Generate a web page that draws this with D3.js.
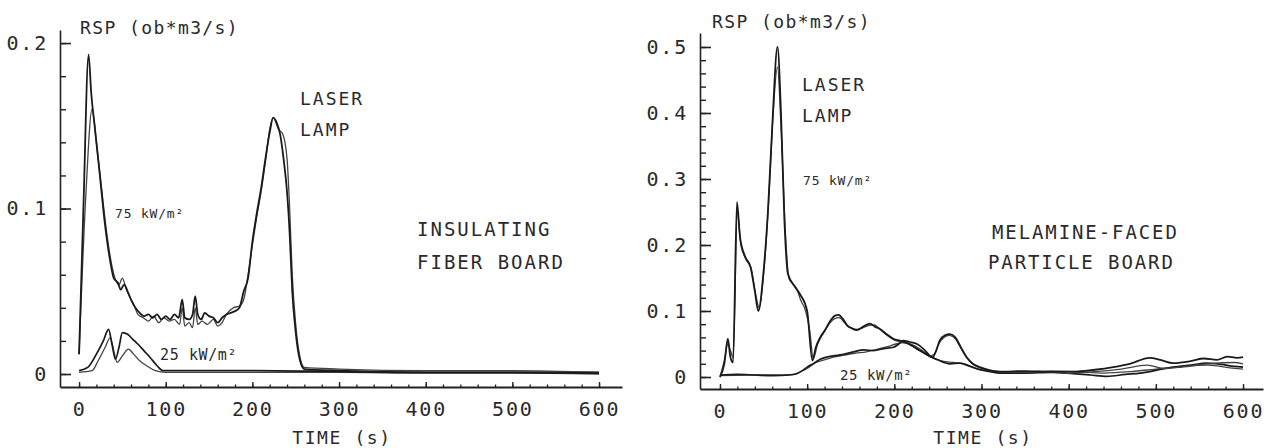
<!DOCTYPE html>
<html><head><meta charset="utf-8">
<script src="https://cdn.jsdelivr.net/npm/d3@7"></script>
<style>
html,body{margin:0;padding:0;background:#fff;}
text{font-family:"DejaVu Sans Mono",monospace;fill:#2a2a2a;}
</style></head>
<body>
<svg id="c" width="1276" height="448"></svg>
<script>
// ---------- data ----------
const xTickValues = [0, 100, 200, 300, 400, 500, 600];
const leftYTickValues = [0, 0.1, 0.2];
const rightYTickValues = [0, 0.1, 0.2, 0.3, 0.4, 0.5];
const yLabel = "RSP  (ob*m3/s)";
const xLabel = "TIME  (s)";

// Insulating fiber board, 75 kW/m2
const fiberLaser75 = [[0,0.012],[5,0.10],[11,0.193],[14,0.17],[18,0.150],[24,0.120],[30,0.090],[36,0.068],[40,0.058],[45,0.055],[48,0.051],[52,0.054],[56,0.050],[60,0.045],[65,0.040],[70,0.037],[75,0.035],[80,0.036],[85,0.034],[90,0.036],[95,0.033],[100,0.035],[105,0.033],[110,0.036],[115,0.034],[119,0.045],[122,0.034],[127,0.033],[131,0.036],[134,0.047],[137,0.036],[141,0.033],[145,0.037],[150,0.035],[155,0.034],[160,0.031],[165,0.034],[170,0.036],[175,0.037],[180,0.038],[185,0.040],[190,0.050],[195,0.058],[200,0.080],[205,0.097],[210,0.112],[215,0.130],[220,0.146],[224,0.155],[228,0.152],[232,0.145],[236,0.130],[240,0.110],[243,0.085],[246,0.05],[250,0.025],[255,0.008],[260,0.003],[300,0.002],[400,0.001],[500,0.001],[600,0.0005]];
const fiberLamp75 = [[0,0.012],[8,0.11],[15,0.160],[20,0.140],[26,0.112],[32,0.085],[38,0.065],[42,0.057],[46,0.054],[50,0.058],[54,0.052],[58,0.047],[63,0.042],[68,0.036],[74,0.034],[80,0.032],[86,0.035],[92,0.031],[98,0.034],[104,0.032],[110,0.033],[116,0.030],[119,0.040],[122,0.029],[127,0.031],[131,0.028],[134,0.040],[137,0.030],[142,0.032],[148,0.030],[155,0.033],[160,0.029],[165,0.031],[170,0.036],[178,0.040],[185,0.041],[190,0.045],[195,0.06],[200,0.078],[205,0.095],[210,0.11],[215,0.128],[220,0.148],[224,0.155],[230,0.148],[235,0.145],[240,0.13],[243,0.10],[246,0.06],[250,0.03],[255,0.01],[260,0.004],[300,0.003],[400,0.002],[500,0.002],[600,0.001]];
// Insulating fiber board, 25 kW/m2
const fiberLaser25 = [[0,0.002],[10,0.004],[20,0.012],[28,0.020],[34,0.027],[38,0.018],[42,0.009],[46,0.016],[50,0.025],[56,0.024],[62,0.021],[68,0.018],[75,0.014],[82,0.010],[90,0.005],[97,0.002],[110,0.002],[200,0.002],[300,0.0015],[400,0.001],[500,0.001],[600,0.001]];
const fiberLamp25 = [[0,0.001],[15,0.002],[22,0.008],[30,0.016],[36,0.022],[40,0.014],[44,0.007],[50,0.011],[57,0.015],[63,0.012],[70,0.008],[78,0.005],[88,0.002],[100,0.001],[200,0.001],[300,0.001],[400,0.0005],[500,0.0005],[600,0]];

// Melamine-faced particle board, 75 kW/m2
const melLaser75 = [[0,0.0],[5,0.02],[9,0.058],[12,0.03],[15,0.022],[19.5,0.265],[23,0.212],[29,0.182],[35,0.167],[40,0.13],[44,0.10],[50,0.16],[55,0.25],[60,0.38],[66,0.50],[70,0.40],[74,0.235],[78,0.156],[86,0.137],[92,0.125],[100,0.10],[106,0.025],[110,0.045],[115,0.06],[121,0.072],[127,0.086],[132,0.093],[136,0.094],[141,0.088],[146,0.078],[151,0.074],[157,0.071],[164,0.076],[172,0.081],[178,0.076],[183,0.073],[190,0.066],[199,0.058],[206,0.055],[214,0.052],[221,0.047],[229,0.040],[236,0.035],[244,0.030],[248,0.040],[252,0.055],[258,0.063],[264,0.065],[270,0.060],[276,0.046],[283,0.030],[290,0.020],[298,0.015],[310,0.010],[321,0.008],[350,0.009],[380,0.008],[405,0.008],[430,0.011],[451,0.015],[470,0.020],[493,0.029],[505,0.026],[520,0.021],[540,0.024],[555,0.028],[570,0.026],[582,0.031],[593,0.029],[600,0.030]];
const melLamp75 = [[0,0.0],[5,0.025],[9,0.05],[12,0.04],[15,0.03],[20,0.25],[24,0.2],[30,0.178],[36,0.163],[41,0.125],[45,0.105],[51,0.17],[56,0.27],[61,0.40],[66,0.47],[70,0.38],[75,0.22],[79,0.15],[84,0.14],[89,0.13],[93,0.115],[97,0.105],[103,0.07],[107,0.028],[112,0.05],[118,0.065],[125,0.08],[131,0.088],[137,0.09],[143,0.082],[149,0.075],[156,0.072],[163,0.074],[170,0.078],[177,0.079],[184,0.072],[192,0.063],[200,0.056],[208,0.053],[216,0.050],[224,0.044],[232,0.038],[240,0.032],[246,0.035],[251,0.050],[257,0.060],[263,0.063],[270,0.058],[277,0.042],[284,0.028],[292,0.018],[300,0.013],[315,0.009],[340,0.007],[370,0.008],[400,0.006],[430,0.008],[460,0.012],[490,0.018],[510,0.013],[530,0.015],[560,0.020],[590,0.022],[600,0.020]];
// Melamine-faced particle board, 25 kW/m2
const melLaser25 = [[0,0.003],[20,0.004],[40,0.003],[60,0.002],[80,0.003],[88,0.005],[95,0.010],[100,0.015],[108,0.021],[115,0.027],[122,0.030],[130,0.032],[140,0.034],[153,0.038],[165,0.041],[176,0.040],[188,0.043],[199,0.045],[205,0.050],[210,0.055],[218,0.053],[226,0.050],[234,0.042],[241,0.032],[250,0.026],[264,0.020],[275,0.021],[287,0.016],[298,0.011],[310,0.008],[321,0.006],[350,0.006],[380,0.007],[405,0.005],[425,0.003],[444,0.001],[465,0.004],[482,0.006],[500,0.010],[520,0.015],[540,0.018],[558,0.021],[575,0.019],[590,0.016],[600,0.015]];
const melLamp25 = [[0,0.002],[30,0.003],[60,0.003],[85,0.004],[92,0.008],[100,0.013],[110,0.022],[120,0.026],[130,0.030],[142,0.033],[155,0.036],[168,0.038],[180,0.042],[192,0.046],[202,0.050],[212,0.052],[222,0.048],[232,0.040],[242,0.030],[255,0.024],[268,0.022],[280,0.020],[292,0.014],[305,0.010],[320,0.008],[350,0.008],[380,0.009],[410,0.008],[440,0.006],[470,0.008],[500,0.012],[530,0.016],[560,0.018],[590,0.013],[600,0.012]];

// ---------- drawing ----------
const svg = d3.select("#c");
const fmtY = v => v === 0 ? "0" : d3.format(".1f")(v);

function panel(cfg) {
  const g = svg.append("g");
  const x = d3.scaleLinear().domain(cfg.xDomain).range(cfg.xRange);
  const y = d3.scaleLinear().domain(cfg.yDomain).range(cfg.yRange);

  // minor y ticks
  g.append("g").attr("transform", `translate(${cfg.xRange[0]},0)`)
    .call(d3.axisLeft(y).tickValues(d3.range(0, cfg.yMax + 0.001, 0.02)).tickSizeInner(-6).tickSizeOuter(0).tickFormat(""))
    .call(s => s.select(".domain").remove())
    .call(s => s.selectAll("line").attr("stroke", "#222").attr("stroke-width", 1.4));
  // major y ticks + labels
  g.append("g").attr("transform", `translate(${cfg.xRange[0]},0)`)
    .call(d3.axisLeft(y).tickValues(cfg.yTicks).tickSizeInner(-11).tickSizeOuter(0).tickPadding(12).tickFormat(fmtY))
    .call(s => s.select(".domain").attr("stroke", "#222").attr("stroke-width", 1.6))
    .call(s => s.selectAll("line").attr("stroke", "#222").attr("stroke-width", 1.6))
    .call(s => s.selectAll("text").attr("font-size", 20).attr("letter-spacing", 1.8).attr("fill", "#333").attr("font-family", "DejaVu Sans Mono"));

  // minor x ticks
  g.append("g").attr("transform", `translate(0,${cfg.yRange[0]})`)
    .call(d3.axisBottom(x).tickValues(d3.range(0, 601, 20)).tickSizeInner(-2.5).tickSizeOuter(0).tickFormat(""))
    .call(s => s.select(".domain").remove())
    .call(s => s.selectAll("line").attr("stroke", "#222").attr("stroke-width", 1.3));
  // major x ticks + labels
  g.append("g").attr("transform", `translate(0,${cfg.yRange[0]})`)
    .call(d3.axisBottom(x).tickValues(xTickValues).tickSizeInner(-5).tickSizeOuter(0).tickPadding(15).tickFormat(d3.format("d")))
    .call(s => s.select(".domain").attr("stroke", "#222").attr("stroke-width", 1.8))
    .call(s => s.selectAll("line").attr("stroke", "#222").attr("stroke-width", 1.4))
    .call(s => s.selectAll("text").attr("font-size", 20).attr("letter-spacing", 1.8).attr("fill", "#333").attr("font-family", "DejaVu Sans Mono"));

  const line = d3.line().x(d => x(d[0])).y(d => y(d[1])).curve(d3.curveMonotoneX);
  cfg.series.forEach(s => {
    g.append("path").datum(s.data).attr("d", line)
      .attr("fill", "none").attr("stroke", s.color).attr("stroke-width", s.w)
      .attr("stroke-linejoin", "round");
  });

  cfg.texts.forEach(t => {
    g.append("text").attr("x", t.x).attr("y", t.y).attr("font-size", t.size)
      .attr("letter-spacing", t.ls).attr("fill", "#2a2a2a").text(t.s);
  });
  // x axis title
  g.append("text").attr("x", cfg.xTitleX).attr("y", cfg.xTitleY).attr("font-size", 18)
    .attr("letter-spacing", 1.6).attr("text-anchor", "middle").attr("fill", "#333").text(xLabel);
}

panel({
  xDomain: [-22, 626.5], xRange: [60, 622],
  yDomain: [-0.00785, 0.2079], yRange: [387, 30], yMax: 0.2,
  yTicks: leftYTickValues,
  series: [
    {data: fiberLamp25, color: "#444", w: 1.3},
    {data: fiberLaser25, color: "#1a1a1a", w: 1.7},
    {data: fiberLamp75, color: "#444", w: 1.3},
    {data: fiberLaser75, color: "#1a1a1a", w: 1.8}
  ],
  texts: [
    {x: 80, y: 34, size: 18, ls: 1.4, s: yLabel},
    {x: 300, y: 105, size: 18, ls: 2.0, s: "LASER"},
    {x: 300, y: 136, size: 18, ls: 2.0, s: "LAMP"},
    {x: 115, y: 218, size: 13, ls: 0.8, s: "75 kW/m²"},
    {x: 160, y: 360, size: 15, ls: 0.6, s: "25 kW/m²"},
    {x: 417, y: 236, size: 19, ls: 2.0, s: "INSULATING"},
    {x: 417, y: 269, size: 19, ls: 2.0, s: "FIBER BOARD"}
  ],
  xTitleX: 342, xTitleY: 444
});

panel({
  xDomain: [-22.9, 622.9], xRange: [700, 1263],
  yDomain: [-0.01818, 0.5212], yRange: [389, 33], yMax: 0.5,
  yTicks: rightYTickValues,
  series: [
    {data: melLamp25, color: "#444", w: 1.3},
    {data: melLaser25, color: "#1a1a1a", w: 1.7},
    {data: melLamp75, color: "#444", w: 1.3},
    {data: melLaser75, color: "#1a1a1a", w: 1.8}
  ],
  texts: [
    {x: 712, y: 28, size: 18, ls: 1.4, s: yLabel},
    {x: 802, y: 91, size: 18, ls: 2.0, s: "LASER"},
    {x: 802, y: 122, size: 18, ls: 2.0, s: "LAMP"},
    {x: 803, y: 185, size: 13, ls: 0.8, s: "75 kW/m²"},
    {x: 840, y: 380, size: 14, ls: 0.6, s: "25 kW/m²"},
    {x: 992, y: 239, size: 19, ls: 1.9, s: "MELAMINE-FACED"},
    {x: 988, y: 269, size: 19, ls: 1.9, s: "PARTICLE BOARD"}
  ],
  xTitleX: 983, xTitleY: 444
});
</script>
</body></html>
